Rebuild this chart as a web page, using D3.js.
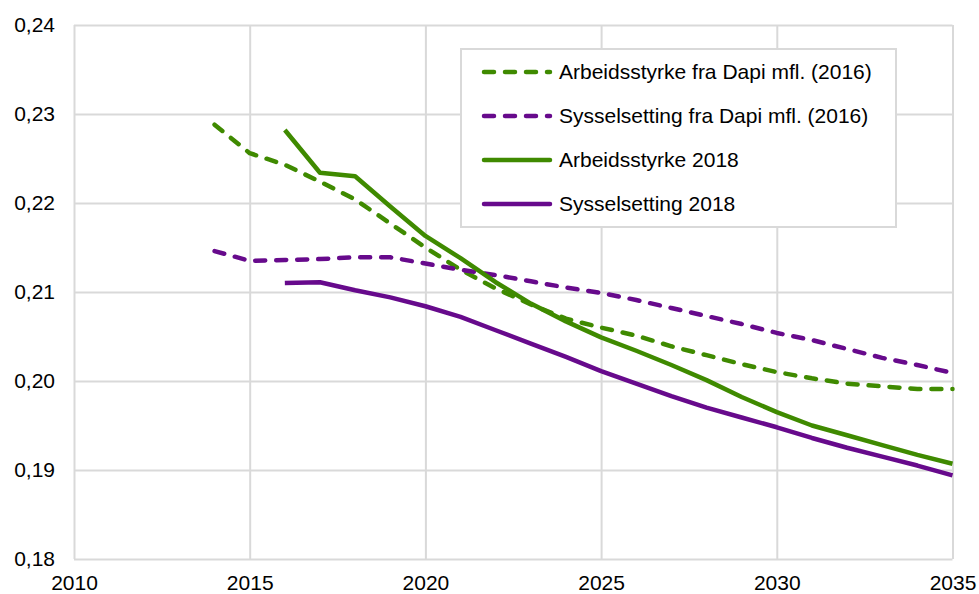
<!DOCTYPE html>
<html>
<head>
<meta charset="utf-8">
<script src="https://cdn.jsdelivr.net/npm/d3@7"></script>
<style>
  body { margin: 0; background: #fff; }
  svg { display: block; font-family: "Liberation Sans", Arial, sans-serif; }
  .grid line { stroke: #d9d9d9; stroke-width: 2; }
  .grid .domain { display: none; }
  .axis text { font-size: 21px; fill: #000; }
  .axis .domain, .axis line { display: none; }
  .series { fill: none; stroke-width: 4.5; stroke-linejoin: round; }
  .legend text { font-size: 21px; fill: #000; }
</style>
</head>
<body>
<div class="chart-container"></div>
<script>
var margin = {top: 25, right: 26.5, bottom: 35, left: 74};
var width = 979 - margin.left - margin.right;
var height = 594 - margin.top - margin.bottom;

// data
var yearsDapi = d3.range(2014, 2036);
var years2018 = d3.range(2016, 2036);

var arbeidDapi = [0.2288, 0.2256, 0.2243, 0.2224, 0.2204, 0.2177, 0.2150, 0.2125,
  0.2104, 0.2086, 0.2070, 0.2060, 0.2051, 0.2039, 0.2029, 0.2019, 0.2010, 0.2003,
  0.1997, 0.1994, 0.1991, 0.1991];
var sysselDapi = [0.2146, 0.2135, 0.2136, 0.2137, 0.2139, 0.2139, 0.2132, 0.2125,
  0.2119, 0.2112, 0.2105, 0.2099, 0.2091, 0.2082, 0.2073, 0.2064, 0.2054, 0.2046,
  0.2036, 0.2026, 0.2018, 0.2009];
var arbeid2018 = [0.2282, 0.2234, 0.2230, 0.2196, 0.2163, 0.2138, 0.2111, 0.2087,
  0.2067, 0.2049, 0.2034, 0.2018, 0.2001, 0.1982, 0.1965, 0.1950, 0.1939, 0.1928,
  0.1917, 0.1907];
var syssel2018 = [0.2110, 0.2111, 0.2102, 0.2094, 0.2084, 0.2072, 0.2057, 0.2042,
  0.2027, 0.2011, 0.1997, 0.1983, 0.1970, 0.1959, 0.1948, 0.1936, 0.1925, 0.1915,
  0.1905, 0.1894];

var xTicks = [2010, 2015, 2020, 2025, 2030, 2035];
var yTicks = [0.18, 0.19, 0.20, 0.21, 0.22, 0.23, 0.24];

var green = '#3f8a00';
var purple = '#670a8c';

var series = [
  {name: 'Arbeidsstyrke fra Dapi mfl. (2016)', years: yearsDapi, values: arbeidDapi, color: green, dashed: true},
  {name: 'Sysselsetting fra Dapi mfl. (2016)', years: yearsDapi, values: sysselDapi, color: purple, dashed: true},
  {name: 'Arbeidsstyrke 2018', years: years2018, values: arbeid2018, color: green, dashed: false},
  {name: 'Sysselsetting 2018', years: years2018, values: syssel2018, color: purple, dashed: false}
];

var no = d3.formatLocale({decimal: ',', thousands: ' ', grouping: [3], currency: ['', ' kr']});

var x = d3.scaleLinear()
  .domain([2010, 2035])
  .range([margin.left, margin.left + width]);

var y = d3.scaleLinear()
  .domain([0.18, 0.24])
  .range([margin.top + height, margin.top]);

var svg = d3.select('.chart-container').append('svg')
  .attr('width', 979)
  .attr('height', 594);

// gridlines
svg.append('g')
  .attr('class', 'grid')
  .attr('transform', `translate(0,${margin.top + height})`)
  .call(d3.axisBottom(x).tickValues(xTicks).tickSize(-height).tickFormat(''));

svg.append('g')
  .attr('class', 'grid')
  .attr('transform', `translate(${margin.left},0)`)
  .call(d3.axisLeft(y).tickValues(yTicks).tickSize(-width).tickFormat(''));

// axes labels
svg.append('g')
  .attr('class', 'axis')
  .attr('transform', `translate(0,${margin.top + height})`)
  .call(d3.axisBottom(x).tickValues(xTicks).tickSize(0).tickPadding(16).tickFormat(d3.format('d')));

svg.append('g')
  .attr('class', 'axis')
  .attr('transform', `translate(${margin.left},0)`)
  .call(d3.axisLeft(y).tickValues(yTicks).tickSize(0).tickPadding(19).tickFormat(no.format('.2f')));

var line = d3.line()
  .x(d => x(d[0]))
  .y(d => y(d[1]));

svg.append('g').selectAll('path')
  .data(series)
  .enter().append('path')
    .attr('class', 'series')
    .attr('stroke', d => d.color)
    .attr('stroke-dasharray', d => d.dashed ? '10,11' : null)
    .attr('stroke-linecap', d => d.dashed ? 'round' : 'butt')
    .attr('d', d => line(d3.zip(d.years, d.values)));

// legend
var legend = svg.append('g')
  .attr('class', 'legend');

legend.append('rect')
  .attr('x', 461)
  .attr('y', 49)
  .attr('width', 435)
  .attr('height', 178)
  .attr('fill', '#fff')
  .attr('stroke', '#d9d9d9')
  .attr('stroke-width', 2);

var items = legend.selectAll('.item')
  .data(series)
  .enter().append('g')
    .attr('class', 'item')
    .attr('transform', (d, i) => `translate(0,${72 + i * 44})`);

items.append('line')
  .attr('x1', 484)
  .attr('x2', 550)
  .attr('stroke', d => d.color)
  .attr('stroke-width', 4.5)
  .attr('stroke-dasharray', d => d.dashed ? '10,11' : null)
  .attr('stroke-linecap', 'round');

items.append('text')
  .attr('x', 559)
  .attr('dy', '0.35em')
  .text(d => d.name);
</script>
</body>
</html>
